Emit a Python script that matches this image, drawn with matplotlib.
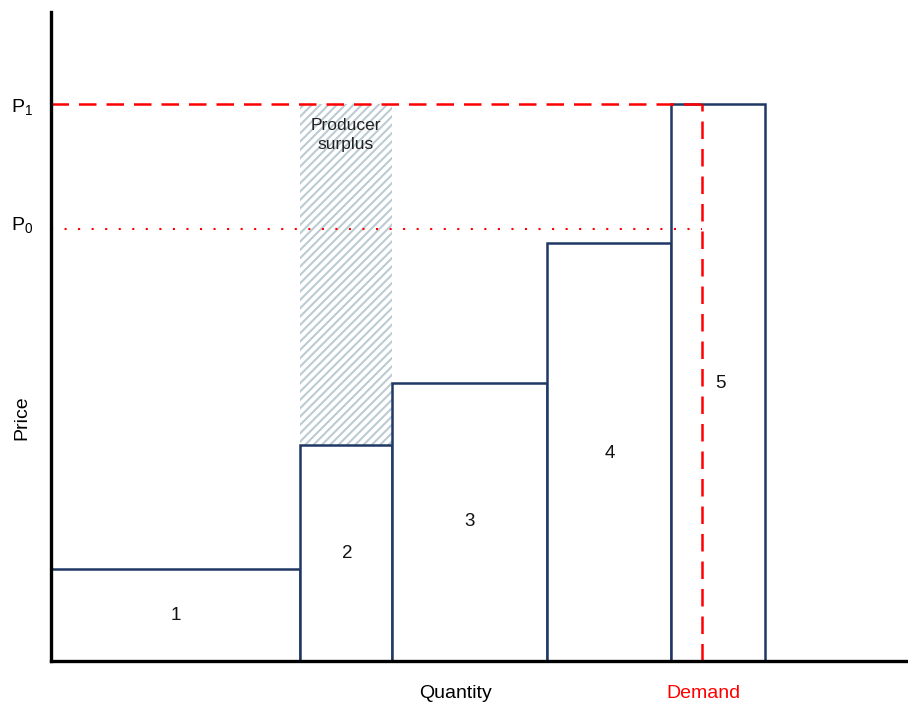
import matplotlib
matplotlib.use("Agg")
import matplotlib.pyplot as plt
from matplotlib.patches import Rectangle
import numpy as np

plt.rcParams['font.family'] = ['Liberation Sans', 'DejaVu Sans']
plt.rcParams['mathtext.fontset'] = 'custom'
plt.rcParams['mathtext.rm'] = 'Liberation Sans'
plt.rcParams['hatch.linewidth'] = 1.5

# Data (arbitrary units)
labels = ["1", "2", "3", "4", "5"]
quantities = [249, 92, 155, 124, 94]
prices = [92, 216, 278, 418, 557]
p0 = 432
p1 = 557
demand_q = 651

fig = plt.figure(figsize=(9.08, 7.04), dpi=100)
ax = fig.add_axes([51/908, 43/704, 855/908, 649/704])
ax.set_xlim(0, 855)
ax.set_ylim(0, 649)

navy = "#1f3864"
starts = np.concatenate([[0], np.cumsum(quantities)[:-1]])

# producer surplus for block 2
ps = Rectangle((starts[1], prices[1]), quantities[1], p1 - prices[1],
               facecolor="white", edgecolor="#bccbd3", hatch="////", linewidth=0, zorder=1)
ax.add_patch(ps)
ax.text(starts[1] + quantities[1]/2, p1 - 31, "Producer\nsurplus", ha="center", va="center",
        fontsize=12.5, color="#222222", linespacing=1.3, zorder=5)

ax.bar(starts, prices, width=quantities, align="edge", facecolor="white",
       edgecolor=navy, linewidth=1.8, zorder=2)

label_pos = [(125, 45), (296, 108), (419, 139), (559, 208), (669, 277)]
for lab, (xc, ly) in zip(labels, label_pos):
    ax.text(xc, ly, lab, ha="center", va="center", fontsize=13.5, color="#111111", zorder=5)

# price lines
ax.plot([0, demand_q], [p1, p1], color="red", linestyle=(0, (7, 4)), linewidth=1.8, zorder=4)
ax.plot([0, demand_q], [p0, p0], color="red", linestyle=(0, (1, 5.5)), linewidth=1.5, zorder=4)
ax.plot([demand_q, demand_q], [0, p1], color="red", linestyle=(0, (7, 4)), linewidth=1.8, zorder=4)

for side in ["top", "right"]:
    ax.spines[side].set_visible(False)
for side in ["left", "bottom"]:
    ax.spines[side].set_linewidth(2.4)
    ax.spines[side].set_color("black")
    ax.spines[side].set_zorder(6)
ax.set_xticks([])
ax.set_yticks([])

ax.text(-29, p1 - 4, r"P$_\mathregular{1}$", ha="center", va="center", fontsize=14, clip_on=False)
ax.text(-29, p0 + 3, r"P$_\mathregular{0}$", ha="center", va="center", fontsize=14, clip_on=False)
ax.text(-29, 243, "Price", ha="center", va="center", rotation=90, fontsize=14, clip_on=False)
ax.text(404, -32, "Quantity", ha="center", va="center", fontsize=14, clip_on=False)
ax.text(652, -32, "Demand", ha="center", va="center", fontsize=14, color="red", clip_on=False)

fig.savefig("out.png", dpi=100)
